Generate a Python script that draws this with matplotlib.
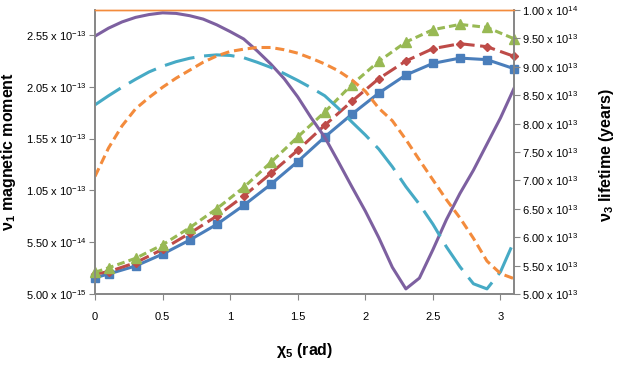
import matplotlib
matplotlib.use("Agg")
import matplotlib.pyplot as plt
from matplotlib.ticker import FixedLocator, FuncFormatter

plt.rcParams['font.family'] = ['Liberation Sans', 'DejaVu Sans']
plt.rcParams['mathtext.fontset'] = 'custom'
plt.rcParams['mathtext.rm'] = 'Liberation Sans'
plt.rcParams['mathtext.it'] = 'Liberation Sans:italic'
plt.rcParams['mathtext.bf'] = 'Liberation Sans:bold'
plt.rcParams['lines.scale_dashes'] = False

# chi_5 values where the marker series were sampled
x_marked = [0, 0.1, 0.3, 0.5, 0.7, 0.9, 1.1, 1.3, 1.5, 1.7, 1.9, 2.1, 2.3, 2.5, 2.7, 2.9, 3.1]
# magnetic moment series, in units of 1e-13
moment_blue = [0.207, 0.243, 0.320, 0.435, 0.570, 0.721, 0.905, 1.107, 1.328, 1.565,
               1.784, 1.989, 2.163, 2.275, 2.326, 2.311, 2.224]
moment_red = [0.243, 0.265, 0.352, 0.481, 0.635, 0.801, 0.994, 1.213, 1.437, 1.678,
              1.909, 2.128, 2.298, 2.417, 2.465, 2.436, 2.343]
moment_green = [0.259, 0.303, 0.394, 0.525, 0.689, 0.872, 1.078, 1.319, 1.565, 1.806,
                2.070, 2.295, 2.481, 2.600, 2.651, 2.622, 2.513]
moment_unit = 1e-13

# chi_5 values for the smooth curves
x_fine = [0.0, 0.1, 0.2, 0.3, 0.4, 0.5, 0.6, 0.7, 0.8, 0.9, 1.0, 1.1, 1.2, 1.3, 1.4, 1.5,
          1.6, 1.7, 1.8, 1.9, 2.0, 2.1, 2.2, 2.3, 2.4, 2.5, 2.6, 2.7, 2.8, 2.9, 3.0, 3.1]
# lifetime series, in units of 1e13 years
life_purple = [9.54, 9.68, 9.79, 9.87, 9.92, 9.95, 9.94, 9.90, 9.84, 9.74, 9.62, 9.49,
               9.28, 9.05, 8.79, 8.47, 8.10, 7.76, 7.33, 6.89, 6.46, 5.99, 5.47, 5.09,
               5.28, 5.78, 6.31, 6.77, 7.18, 7.64, 8.10, 8.62]
life_teal = [8.33, 8.49, 8.64, 8.78, 8.91, 9.01, 9.09, 9.15, 9.19, 9.21, 9.20, 9.16,
             9.08, 8.99, 8.88, 8.76, 8.63, 8.49, 8.27, 8.03, 7.80, 7.55, 7.24, 6.89,
             6.58, 6.23, 5.83, 5.48, 5.18, 5.09, 5.39, 5.93]
life_orange = [7.07, 7.57, 7.96, 8.26, 8.46, 8.64, 8.80, 8.94, 9.08, 9.19, 9.27, 9.31,
               9.34, 9.34, 9.30, 9.24, 9.15, 9.05, 8.93, 8.77, 8.57, 8.27, 8.05, 7.72,
               7.36, 7.01, 6.66, 6.34, 5.98, 5.58, 5.36, 5.27]
life_unit = 1e13

left_ticks = [5e-15, 5.5e-14, 1.05e-13, 1.55e-13, 2.05e-13, 2.55e-13]
right_ticks = [5e13, 5.5e13, 6e13, 6.5e13, 7e13, 7.5e13, 8e13, 8.5e13, 9e13, 9.5e13, 1e14]
x_ticks = [0, 0.5, 1, 1.5, 2, 2.5, 3]


def sci_label(v, pos=None):
    exp = 0
    m = v
    while abs(m) >= 10:
        m /= 10
        exp += 1
    while abs(m) < 1:
        m *= 10
        exp -= 1
    return "%.2f x 10$^{%d}$" % (m, exp)


grey = '#868686'
fig = plt.figure(figsize=(6.17, 3.65), dpi=100)
ax = fig.add_axes([95 / 617, 1 - 294 / 365, 419 / 617, 284 / 365])
ax2 = ax.twinx()

lw = 2.2
ax.plot(x_marked, [v * moment_unit for v in moment_blue], color='#4A7EBB', lw=lw,
        marker='s', ms=6, clip_on=False, zorder=3)
ax.plot(x_marked, [v * moment_unit for v in moment_red], color='#BE4B48', lw=lw,
        dashes=(11, 4), marker='D', ms=4.5, clip_on=False, zorder=3)
ax.plot(x_marked, [v * moment_unit for v in moment_green], color='#98B954', lw=lw,
        dashes=(5.5, 3), marker='^', ms=6.5, clip_on=False, zorder=3)

ax2.plot(x_fine, [v * life_unit for v in life_purple], color='#7D60A0', lw=lw)
ax2.plot(x_fine, [v * life_unit for v in life_teal], color='#46AAC5', lw=lw, dashes=(22, 7))
ax2.plot(x_fine, [v * life_unit for v in life_orange], color='#F38B3C', lw=lw, dashes=(6.5, 3.5))

ax.set_xlim(0, 3.1)
ax.set_ylim(5e-15, 2.79e-13)
ax2.set_ylim(5e13, 1e14)

ax.xaxis.set_major_locator(FixedLocator(x_ticks))
ax.xaxis.set_major_formatter(FuncFormatter(lambda v, p: "%g" % v))
ax.yaxis.set_major_locator(FixedLocator(left_ticks))
ax.yaxis.set_major_formatter(FuncFormatter(sci_label))
ax2.yaxis.set_major_locator(FixedLocator(right_ticks))
ax2.yaxis.set_major_formatter(FuncFormatter(sci_label))

for a in (ax, ax2):
    for s in ('left', 'right', 'bottom'):
        a.spines[s].set_color(grey)
        a.spines[s].set_linewidth(1.2)
    a.spines['top'].set_color('#F38B3C')
    a.spines['top'].set_linewidth(1.0)
ax.tick_params(axis='y', direction='out', length=4, color=grey, labelsize=8, pad=2)
ax.tick_params(axis='x', direction='out', length=4, color=grey, labelsize=8, pad=9)
ax2.tick_params(axis='y', direction='out', length=4, color=grey, labelsize=8, pad=2)

ax.set_ylabel("ν$_\\mathbf{1}$ magnetic moment", fontsize=11.5, fontweight='bold')
ax.yaxis.set_label_coords(-0.184, 0.5)
ax2.set_ylabel("ν$_\\mathbf{3}$ lifetime (years)", fontsize=11.5, fontweight='bold',
               rotation=90)
ax2.yaxis.set_label_coords(1.198, 0.49)
ax.set_xlabel("χ$_\\mathbf{5}$ (rad)", fontsize=11.5, fontweight='bold')
ax.xaxis.set_label_coords(0.5, -0.165)

fig.savefig("out.png", dpi=100)
